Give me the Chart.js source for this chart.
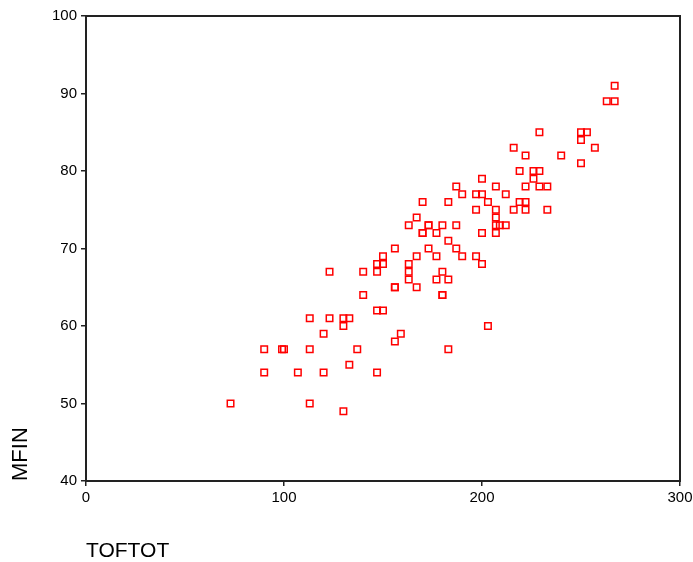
<!DOCTYPE html>
<html>
<head>
<meta charset="utf-8">
<script src="https://cdn.jsdelivr.net/npm/chart.js@4.4.0/dist/chart.umd.min.js"></script>
<style>
  html, body { margin: 0; padding: 0; background: #fff; }
  #wrap { width: 693px; height: 562px; }
</style>
</head>
<body>
<div id="wrap"><canvas id="scatter"></canvas></div>
<script>
// TOFTOT (x) and MFIN (y)
const toftot = [
  267,
  263, 267,
  229, 250, 253,
  250,
  216, 257,
  222, 240,
  250,
  219, 226, 229,
  200, 226,
  187, 207, 222, 229, 233,
  190, 197, 200, 212,
  170, 183, 203, 219, 222,
  197, 207, 216, 222, 233,
  167, 207,
  163, 173, 173, 180, 187, 207, 209, 212,
  170, 170, 177, 200, 207,
  183,
  156, 173, 187,
  150, 167, 177, 190, 197,
  147, 150, 163, 200,
  123, 140, 147, 163, 180,
  163, 177, 183,
  156, 156, 167,
  140, 180, 180,
  147, 150,
  113, 123, 130, 133,
  130, 203,
  120, 159,
  156,
  90, 99, 100, 113, 137, 183,
  133,
  90, 107, 120, 147,
  73, 113,
  130
];
const mfin = [
  91,
  89, 89,
  85, 85, 85,
  84,
  83, 83,
  82, 82,
  81,
  80, 80, 80,
  79, 79,
  78, 78, 78, 78, 78,
  77, 77, 77, 77,
  76, 76, 76, 76, 76,
  75, 75, 75, 75, 75,
  74, 74,
  73, 73, 73, 73, 73, 73, 73, 73,
  72, 72, 72, 72, 72,
  71,
  70, 70, 70,
  69, 69, 69, 69, 69,
  68, 68, 68, 68,
  67, 67, 67, 67, 67,
  66, 66, 66,
  65, 65, 65,
  64, 64, 64,
  62, 62,
  61, 61, 61, 61,
  60, 60,
  59, 59,
  58,
  57, 57, 57, 57, 57, 57,
  55,
  54, 54, 54, 54,
  50, 50,
  49
];
const xTicks = [0, 100, 200, 300];
const yTicks = [40, 50, 60, 70, 80, 90, 100];

const points = toftot.map((x, i) => ({ x: x, y: mfin[i] }));

// box round the plot area (top and right edges)
const frame = {
  id: 'frame',
  afterDraw(chart) {
    const { ctx, chartArea } = chart;
    ctx.save();
    ctx.strokeStyle = '#222';
    ctx.lineWidth = 2;
    ctx.strokeRect(chartArea.left, chartArea.top, chartArea.right - chartArea.left, chartArea.bottom - chartArea.top);
    ctx.restore();
  }
};

const axisFont = { family: 'Liberation Sans, Arial, sans-serif', size: 15 };

new Chart(document.getElementById('scatter'), {
  type: 'scatter',
  data: {
    datasets: [{
      label: 'MFIN',
      data: points,
      pointStyle: 'rect',
      pointRadius: 4.6,
      pointHoverRadius: 4.6,
      borderColor: '#ff0000',
      backgroundColor: 'rgba(255,255,255,0)',
      borderWidth: 1.5
    }]
  },
  plugins: [frame],
  options: {
    responsive: true,
    maintainAspectRatio: false,
    animation: false,
    layout: { padding: { left: 0, right: 13, top: 16, bottom: 0 } },
    plugins: {
      legend: { display: false },
      tooltip: { enabled: false }
    },
    scales: {
      x: {
        type: 'linear',
        min: 0,
        max: 300,
        afterBuildTicks(scale) { scale.ticks = xTicks.map(v => ({ value: v })); },
        afterFit(scale) {
          scale.height = 81;
          scale.paddingLeft = 0;
          scale.paddingRight = 0;
        },
        grid: { drawOnChartArea: false, drawTicks: true, tickLength: 5, color: '#222', lineWidth: 1.5 },
        border: { display: true, color: '#222', width: 2 },
        ticks: { color: '#000', font: axisFont, padding: 3, maxRotation: 0 },
        title: {
          display: true,
          text: 'TOFTOT',
          align: 'start',
          color: '#000',
          font: { family: 'Liberation Sans, Arial, sans-serif', size: 21, lineHeight: 1 },
          padding: { top: 0, bottom: 0 }
        }
      },
      y: {
        type: 'linear',
        min: 40,
        max: 100,
        afterBuildTicks(scale) { scale.ticks = yTicks.map(v => ({ value: v })); },
        afterFit(scale) { scale.width = 86; },
        grid: { drawOnChartArea: false, drawTicks: true, tickLength: 5, color: '#222', lineWidth: 1.5 },
        border: { display: true, color: '#222', width: 2 },
        ticks: { color: '#000', font: axisFont, padding: 4 },
        title: {
          display: true,
          text: 'MFIN',
          align: 'start',
          color: '#000',
          font: { family: 'Liberation Sans, Arial, sans-serif', size: 22 },
          padding: { top: 8, bottom: 0 }
        }
      }
    }
  }
});
</script>
</body>
</html>
